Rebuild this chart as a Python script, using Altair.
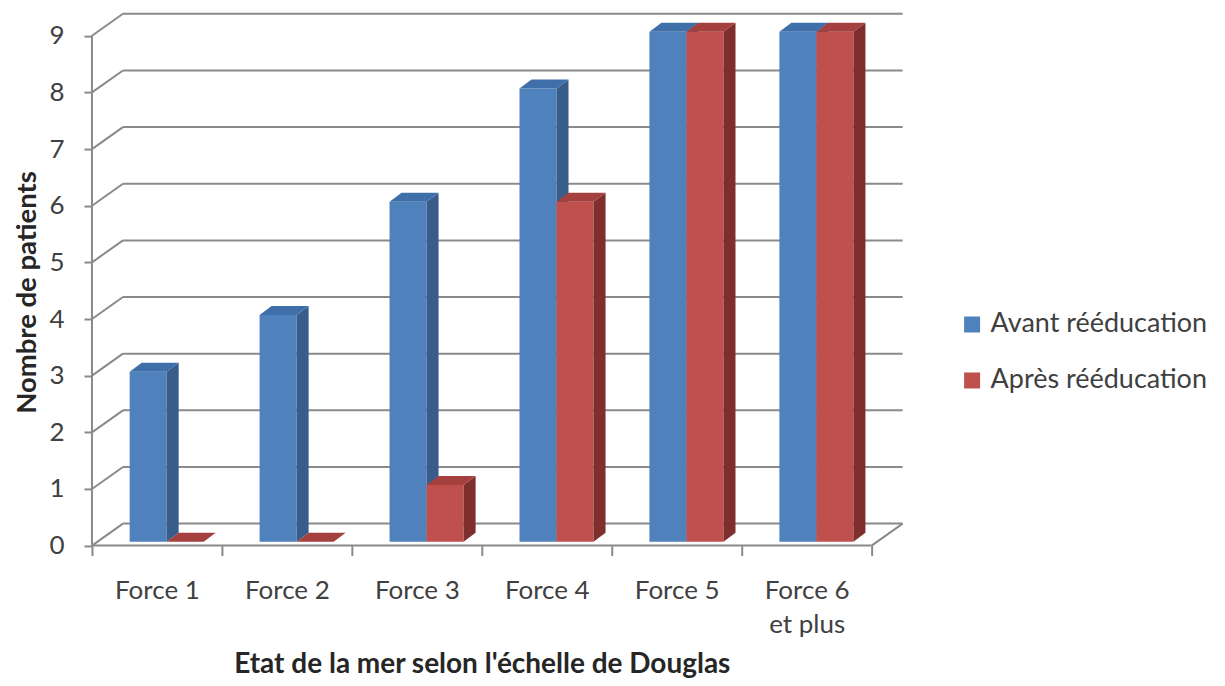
import json
import altair as alt
import pandas as pd

# ---- data ----
categories = ["Force 1", "Force 2", "Force 3", "Force  4", "Force 5", "Force 6\net plus"]
avant = [3, 4, 6, 8, 9, 9]
apres = [0, 0, 1, 6, 9, 9]
series = ["Avant rééducation", "Après rééducation"]
y_ticks = [0, 1, 2, 3, 4, 5, 6, 7, 8, 9]
x_title = "Etat de la mer selon l'échelle de Douglas"
y_title = "Nombre de patients"

# ---- style / geometry constants (pseudo 3D) ----
FONT = "Lato"
GRAY = "#8a8a8a"
FRONT = ["#4F81BD", "#C0504D"]
SIDE = ["#385D8A", "#7E2F2D"]
TOP = ["#3F6FA8", "#A4403D"]
PX_X, PX_Y = 130.0, 56.67      # pixels per unit
XMAX, YMAX = 6.25, 9.4
DX, DY = 31 / PX_X, 22 / PX_Y  # wall depth in data units
L, W, B = 0.29, 0.285, 0.07    # bar start, front width, base
D, DZ = 12 / PX_X, 9 / PX_Y    # bar depth

n = len(categories)
values = [avant, apres]

# ---- tables built from the arrays ----
front_rows, side_rows, top_rows = [], [], []
for s, name in enumerate(series):
    for i, v in enumerate(values[s]):
        xl = i + L + s * W
        xr = xl + W
        bid = f"{s}-{i}"
        front_rows.append(dict(series=name, s=s, x=xl, x2=xr, lo=B, hi=v + B))
        side_rows += [dict(s=s, bar=bid, x=xr, lo=B, hi=v + B),
                      dict(s=s, bar=bid, x=xr + D, lo=B + DZ, hi=v + B + DZ)]
        t = v + B
        top_rows += [dict(s=s, bar=bid, x=xl, lo=t, hi=t),
                     dict(s=s, bar=bid, x=xl + D, lo=t, hi=t + DZ),
                     dict(s=s, bar=bid, x=xr, lo=t, hi=t + DZ),
                     dict(s=s, bar=bid, x=xr + D, lo=t + DZ, hi=t + DZ)]
front_df = pd.DataFrame(front_rows)
side_df = pd.DataFrame(side_rows)
top_df = pd.DataFrame(top_rows)

grid_rows = []
for v in y_ticks:
    grid_rows.append(dict(x=DX, x2=n + DX, lo=v + DY, hi=v + DY))   # back wall
    grid_rows.append(dict(x=0, x2=DX, lo=v, hi=v + DY))             # side wall
grid_rows.append(dict(x=0, x2=n, lo=0, hi=0))                       # floor front
grid_rows.append(dict(x=n, x2=n + DX, lo=0, hi=DY))                 # floor right
grid_rows.append(dict(x=0, x2=0, lo=0, hi=y_ticks[-1]))             # y axis line
grid_df = pd.DataFrame(grid_rows)

label_arr = json.dumps([c.split("\n") for c in categories], ensure_ascii=False)

x_scale = alt.Scale(domain=[0, XMAX], nice=False, zero=False)
y_scale = alt.Scale(domain=[0, YMAX], nice=False, zero=False)

x_axis = alt.Axis(
    values=list(range(n + 1)), domain=False, grid=False,
    tickSize=10, tickWidth=2, tickColor=GRAY,
    labelOffset=PX_X / 2, labelExpr=f"datum.value < {n} ? {label_arr}[datum.value] : ''",
    labelFont=FONT, labelFontSize=26, labelColor="#404040", labelPadding=22,
    labelLineHeight=34, labelOverlap=False, labelFlush=False, labelBound=False,
    title=x_title, titleFont=FONT, titleFontSize=28, titleFontWeight="bold",
    titleColor="#262626", titleX=390, titleY=119, titleAlign="center",
    titleBaseline="middle",
)
y_axis = alt.Axis(
    values=y_ticks, domain=False, grid=False,
    tickSize=8, tickWidth=2, tickColor=GRAY,
    labelFont=FONT, labelFontSize=26, labelColor="#404040", labelPadding=20,
    title=y_title, titleFont=FONT, titleFontSize=27.5, titleFontWeight="bold",
    titleColor="#262626", titleX=-64, titleY=279, titleAngle=270,
    titleAlign="center", titleBaseline="middle",
)


def X(f="x"):
    return alt.X(f"{f}:Q", scale=x_scale, axis=x_axis)


def Y(f="lo"):
    return alt.Y(f"{f}:Q", scale=y_scale, axis=y_axis, stack=None)


grid = alt.Chart(grid_df).mark_rule(color=GRAY, strokeWidth=2).encode(
    x=X(), x2="x2:Q", y=Y(), y2="hi:Q"
)

legend = alt.Legend(
    orient="none", legendX=867, legendY=298, title=None,
    symbolType="square", symbolSize=256, symbolStrokeWidth=0,
    labelFont=FONT, labelFontSize=27, labelColor="#404040",
    labelOffset=5, rowPadding=28, padding=0, labelLimit=400,
)

layers = [grid]
for s in range(len(series)):
    front = alt.Chart(front_df).transform_filter(f"datum.s == {s}").mark_bar().encode(
        x=X(), x2="x2:Q", y=Y(), y2="hi:Q",
        color=alt.Color("series:N", scale=alt.Scale(domain=series, range=FRONT), legend=legend),
    )
    side = alt.Chart(side_df).transform_filter(f"datum.s == {s}").mark_area(
        color=SIDE[s]).encode(x=X(), y=Y(), y2="hi:Q", detail="bar:N")
    top = alt.Chart(top_df).transform_filter(f"datum.s == {s}").mark_area(
        color=TOP[s]).encode(x=X(), y=Y(), y2="hi:Q", detail="bar:N")
    layers += [front, side, top]

chart = alt.layer(*layers).properties(
    width=XMAX * PX_X, height=YMAX * PX_Y,
    autosize=alt.AutoSizeParams(type="none"),
    padding={"left": 84, "top": 5, "right": 313, "bottom": 132},
).configure_view(stroke=None)

chart.save("out.html", embed_options={"renderer": "svg", "actions": False})
